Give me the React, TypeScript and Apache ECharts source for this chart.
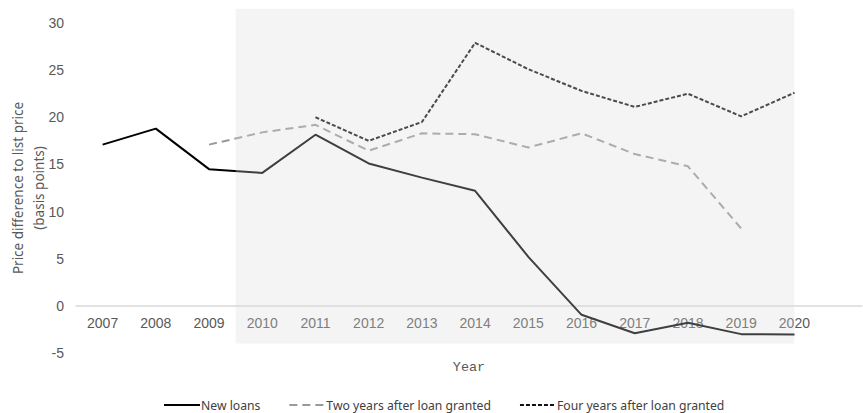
import React, { useEffect, useRef } from "react";
import * as echarts from "echarts";

const years = [2007, 2008, 2009, 2010, 2011, 2012, 2013, 2014, 2015, 2016, 2017, 2018, 2019, 2020];
const newLoans = [17.1, 18.8, 14.5, 14.1, 18.15, 15.1, 13.6, 12.2, 5.2, -0.95, -2.9, -1.8, -3.0, -3.05];
const twoYears = [null, null, 17.1, 18.4, 19.2, 16.45, 18.3, 18.2, 16.8, 18.3, 16.1, 14.8, 8.2, null];
const fourYears = [null, null, null, null, 20.0, 17.5, 19.5, 27.9, 25.1, 22.8, 21.1, 22.5, 20.1, 22.6];
const yTicks = { min: -5, max: 30, interval: 5 };
const shadedArea = [[2009.5, 31.5, 2020, -4]];

const pair = (vals: (number | null)[]) => years.map((y, i) => [y, vals[i]]);

export default function App() {
  const ref = useRef<HTMLDivElement>(null);
  useEffect(() => {
    document.body.style.margin = "0";
    const chart = echarts.init(ref.current!, null, { renderer: "svg" });
    const tickFont = { color: "#595959", fontSize: 14, fontFamily: "Liberation Sans" };
    chart.setOption({
      animation: false,
      grid: { left: 76, right: 1, top: 23, bottom: 60, outerBoundsMode: "none", containLabel: false },
      xAxis: {
        type: "value",
        min: 2006.5,
        max: 2021.27,
        offset: -47,
        name: "Year",
        nameLocation: "middle",
        nameGap: 54,
        nameMoveOverlap: false,
        nameTextStyle: { color: "#595959", fontSize: 13.5, fontFamily: "Liberation Mono" },
        axisLine: { onZero: false, lineStyle: { color: "#d9d9d9", width: 1.5 } },
        axisTick: { show: false },
        splitLine: { show: false },
        axisLabel: { ...tickFont, margin: 10, customValues: years, formatter: (v: number) => String(v) },
      },
      yAxis: {
        type: "value",
        min: yTicks.min,
        max: yTicks.max,
        interval: yTicks.interval,
        name: "Price difference to list price\n(basis points)",
        nameLocation: "middle",
        nameGap: 27,
        nameMoveOverlap: false,
        nameTextStyle: { color: "#595959", fontSize: 13.5, fontFamily: "Noto Sans", lineHeight: 21 },
        axisLine: { show: false },
        axisTick: { show: false },
        splitLine: { show: false },
        axisLabel: { ...tickFont, margin: 12 },
      },
      legend: {
        bottom: 2,
        left: 163,
        padding: 0,
        itemWidth: 36,
        itemHeight: 10,
        itemGap: 28,
        itemStyle: { opacity: 0 },
        textStyle: { color: "#404040", fontSize: 12.2, fontFamily: "Noto Sans", padding: [0, 0, 0, -4] },
        data: ["New loans", "Two years after loan granted", "Four years after loan granted"],
      },
      series: [
        {
          name: "New loans",
          type: "line",
          data: pair(newLoans),
          symbol: "none",
          lineStyle: { color: "#000", width: 2 },
          itemStyle: { color: "#000" },
          z: 3,
        },
        {
          name: "Two years after loan granted",
          type: "line",
          data: pair(twoYears),
          symbol: "none",
          lineStyle: { color: "#9a9a9a", width: 2, type: [8, 5] },
          itemStyle: { color: "#9a9a9a" },
          z: 3,
        },
        {
          name: "Four years after loan granted",
          type: "line",
          data: pair(fourYears),
          symbol: "none",
          lineStyle: { color: "#111", width: 2, type: [4, 2] },
          itemStyle: { color: "#111" },
          z: 3,
        },
        {
          type: "custom",
          silent: true,
          z: 20,
          data: shadedArea,
          renderItem: (params: any, api: any) => {
            const p1 = api.coord([api.value(0), api.value(1)]);
            const p2 = api.coord([api.value(2), api.value(3)]);
            return {
              type: "rect",
              shape: { x: p1[0], y: p1[1], width: p2[0] - p1[0], height: p2[1] - p1[1] },
              style: { fill: "rgba(218,218,218,0.29)" },
            };
          },
        },
      ],
    });
    return () => chart.dispose();
  }, []);
  return <div ref={ref} style={{ width: 863, height: 413 }} />;
}
